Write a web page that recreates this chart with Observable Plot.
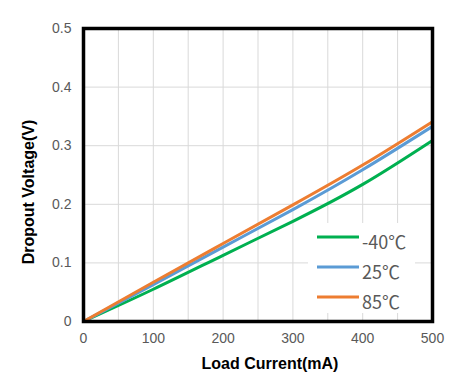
<!DOCTYPE html>
<html>
<head>
<meta charset="utf-8">
<script src="https://cdn.jsdelivr.net/npm/d3@7"></script>
<script src="https://cdn.jsdelivr.net/npm/@observablehq/plot@0.6"></script>
<style>
  html, body { margin: 0; padding: 0; background: #fff; }
</style>
</head>
<body>
<div id="chart"></div>
<script>
// Data
const loadCurrent = [0, 100, 200, 300, 400, 500];            // mA
const seriesNames = ["-40℃", "25℃", "85℃"];
const seriesColors = ["#00b050", "#5b9bd5", "#ed7d31"];
const voltsM40 = [0, 0.055, 0.113, 0.171, 0.234, 0.309];
const volts25  = [0, 0.063, 0.127, 0.191, 0.259, 0.333];
const volts85  = [0, 0.067, 0.133, 0.199, 0.267, 0.341];
const xTicks = [0, 100, 200, 300, 400, 500];
const yTicks = [0, 0.1, 0.2, 0.3, 0.4, 0.5];
const xGrid = [50, 100, 150, 200, 250, 300, 350, 400, 450];
const yGrid = [0.1, 0.2, 0.3, 0.4];

const seriesValues = [voltsM40, volts25, volts85];
const table = seriesNames.flatMap((name, i) =>
  loadCurrent.map((c, j) => ({ series: name, current: c, volt: seriesValues[i][j] }))
);

const W = 473, H = 384;
const mL = 83, mR = 41, mT = 28, mB = 63;

const plot = Plot.plot({
  width: W,
  height: H,
  marginLeft: mL,
  marginRight: mR,
  marginTop: mT,
  marginBottom: mB,
  style: { fontFamily: "'Liberation Sans', Arial, sans-serif", fontSize: "14px", color: "#595959", background: "#fff" },
  x: { domain: [0, 500] },
  y: { domain: [0, 0.5] },
  color: { domain: seriesNames, range: seriesColors },
  marks: [
    Plot.gridX(xGrid, { stroke: "#d9d9d9", strokeOpacity: 1, strokeWidth: 1 }),
    Plot.gridY(yGrid, { stroke: "#d9d9d9", strokeOpacity: 1, strokeWidth: 1 }),
    Plot.line(table, { x: "current", y: "volt", z: "series", stroke: "series", strokeWidth: 3, curve: "natural" }),
    Plot.frame({ stroke: "black", strokeWidth: 3.5 }),
    Plot.axisX(xTicks, { tickSize: 0, tickPadding: 12, label: null, fill: "#595959", fontSize: 14 }),
    Plot.axisY(yTicks, { tickSize: 0, tickPadding: 12, label: null, fill: "#595959", fontSize: 14,
      tickFormat: d => d === 0 ? "0" : d.toFixed(1) })
  ]
});

document.getElementById("chart").appendChild(plot);

// Axis titles and legend
const svg = d3.select(plot);
svg.append("text")
  .attr("transform", `translate(28,192) rotate(-90)`)
  .attr("text-anchor", "middle")
  .attr("dominant-baseline", "central")
  .attr("font-family", "'Liberation Sans', Arial, sans-serif")
  .attr("font-weight", "bold")
  .attr("font-size", 16)
  .attr("fill", "#000")
  .text("Dropout Voltage(V)");
svg.append("text")
  .attr("x", 270)
  .attr("y", 363)
  .attr("text-anchor", "middle")
  .attr("dominant-baseline", "central")
  .attr("font-family", "'Liberation Sans', Arial, sans-serif")
  .attr("font-weight", "bold")
  .attr("font-size", 16)
  .attr("fill", "#000")
  .text("Load Current(mA)");

const lg = svg.append("g");
lg.append("rect").attr("x", 308).attr("y", 223).attr("width", 107).attr("height", 90).attr("fill", "#fff");
seriesNames.forEach((name, i) => {
  const y = 237 + i * 30;
  lg.append("line").attr("x1", 317).attr("x2", 359).attr("y1", y).attr("y2", y)
    .attr("stroke", seriesColors[i]).attr("stroke-width", 3);
  lg.append("text").attr("x", 362).attr("y", y + 4)
    .attr("text-anchor", "start")
    .attr("dominant-baseline", "central")
    .attr("font-family", "'Noto Sans CJK SC', 'Noto Sans', sans-serif")
    .attr("font-size", 18)
    .attr("fill", "#595959")
    .text(name);
});
</script>
</body>
</html>
